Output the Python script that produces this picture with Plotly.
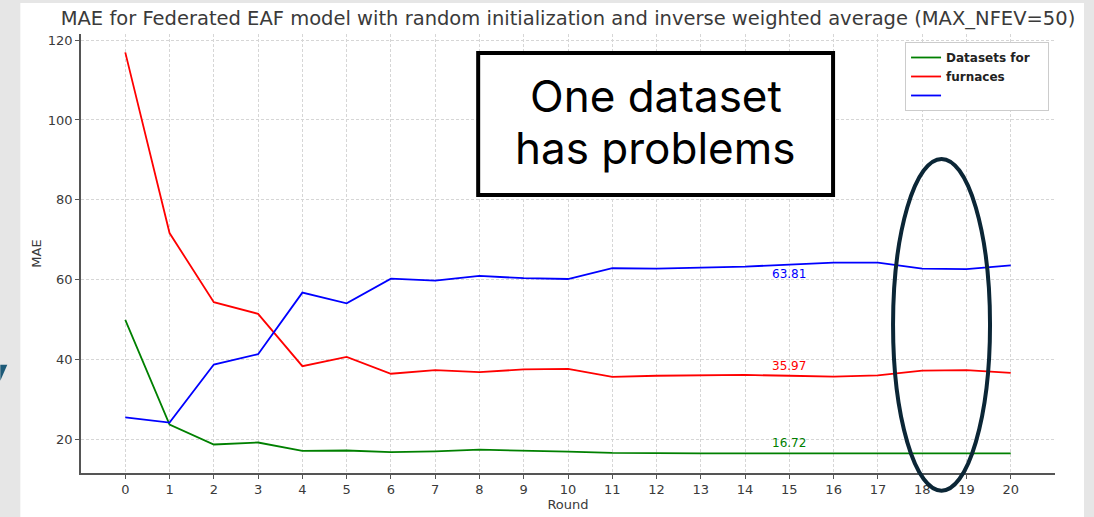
import plotly.graph_objects as go

rounds = list(range(21))
green_mae = [50.0, 23.8, 18.8, 19.3, 17.2, 17.3, 16.9, 17.1, 17.5, 17.3, 17.0,
             16.7, 16.6, 16.6, 16.6, 16.6, 16.6, 16.7, 16.75, 16.6, 16.6]
red_mae = [116.9, 71.7, 54.4, 51.5, 38.4, 40.7, 36.5, 37.4, 36.9, 37.6, 37.7,
           35.7, 36.0, 36.1, 36.2, 36.0, 35.8, 36.1, 37.3, 37.4, 36.7]
blue_mae = [25.6, 24.3, 38.8, 41.4, 56.8, 54.1, 60.3, 59.8, 61.0, 60.4, 60.2,
            62.9, 62.8, 63.1, 63.3, 63.8, 64.3, 64.3, 62.8, 62.7, 63.6]
legend_names = ["Datasets for\u00a0\u00a0\u00a0", "furnaces", " "]
line_colors = ["green", "red", "blue"]
mean_labels = ["16.72", "35.97", "63.81"]
label_y = [19.1, 38.5, 61.4]
label_x = 15
y_ticks = [20, 40, 60, 80, 100, 120]
callout_lines = ["One dataset", "has problems"]

W, H = 1094, 517
L, R, T, B = 80.7, 1055.0, 34.0, 473.3


def px(x):
    return (x - L) / (R - L)


def py(y):
    return (B - y) / (B - T)


fig = go.Figure()
for name, vals, col in zip(legend_names, [green_mae, red_mae, blue_mae], line_colors):
    fig.add_trace(go.Scatter(x=rounds, y=vals, mode="lines", name=name,
                             line=dict(color=col, width=1.8)))

for txt, yv, col in zip(mean_labels, label_y, line_colors):
    fig.add_annotation(x=label_x, y=yv, text=txt, showarrow=False,
                       font=dict(family="DejaVu Sans", size=12, color=col),
                       xref="x", yref="y")

shapes = [
    dict(type="rect", xref="paper", yref="paper", x0=px(20), x1=px(1084),
         y0=py(520), y1=py(3), fillcolor="white", line=dict(width=0), layer="below"),
    dict(type="path", xref="paper", yref="paper",
         path=f"M {px(0)},{py(365)} L {px(7)},{py(365)} L {px(0)},{py(381)} Z",
         fillcolor="#1d5a78", line=dict(width=0)),
    dict(type="rect", xref="paper", yref="paper", x0=px(478), x1=px(833),
         y0=py(195), y1=py(53), fillcolor="white", line=dict(color="black", width=4),
         layer="above"),
    dict(type="circle", xref="paper", yref="paper", x0=px(893), x1=px(990),
         y0=py(491), y1=py(159), line=dict(color="#0b2636", width=4), layer="above"),
]

for txt, ypix in zip(callout_lines, [96, 148]):
    fig.add_annotation(xref="paper", yref="paper", x=px(655.5), y=py(ypix),
                       xanchor="center", yanchor="middle",
                       text=txt, showarrow=False,
                       font=dict(family="Inter", size=44, color="black"))

axis_common = dict(showline=True, linecolor="#555555", linewidth=1.5,
                   ticks="outside", ticklen=4, tickcolor="#555555",
                   showgrid=True, gridcolor="#d6d6d6", griddash="3px,2px", gridwidth=1,
                   zeroline=False, mirror=False,
                   tickfont=dict(family="DejaVu Sans", size=13, color="#3a3a3a"))

fig.update_layout(
    width=W, height=H,
    margin=dict(l=L, r=W - R, t=T, b=H - B, autoexpand=False),
    paper_bgcolor="#e6e6e6", plot_bgcolor="white",
    shapes=shapes,
    title=dict(text="MAE for Federated EAF model with random initialization and inverse weighted average (MAX_NFEV=50)",
               x=0.5, xref="paper", y=1 - 18 / H, yref="container", yanchor="middle",
               font=dict(family="DejaVu Sans", size=19.5, color="#3a3a3a")),
    xaxis=dict(range=[-1, 21], tickmode="array", tickvals=rounds,
               ticktext=[str(r) for r in rounds],
               title=dict(text="Round", standoff=3,
                          font=dict(family="DejaVu Sans", size=13, color="#3a3a3a")),
               **axis_common),
    yaxis=dict(range=[11.67, 121.5], tickmode="array", tickvals=y_ticks,
               title=dict(text="MAE", standoff=3,
                          font=dict(family="DejaVu Sans", size=13, color="#3a3a3a")),
               **axis_common),
    legend=dict(x=px(905), y=py(42), xanchor="left", yanchor="top",
                bgcolor="white", bordercolor="#cccccc", borderwidth=1,
                font=dict(family="DejaVu Sans", size=12, color="#222222", weight="bold"),
                itemwidth=30, tracegroupgap=0),
    showlegend=True,
)

fig.write_html("out.html", config={"displayModeBar": False},
               post_script="document.body.style.margin='0';document.body.style.overflow='hidden';")
